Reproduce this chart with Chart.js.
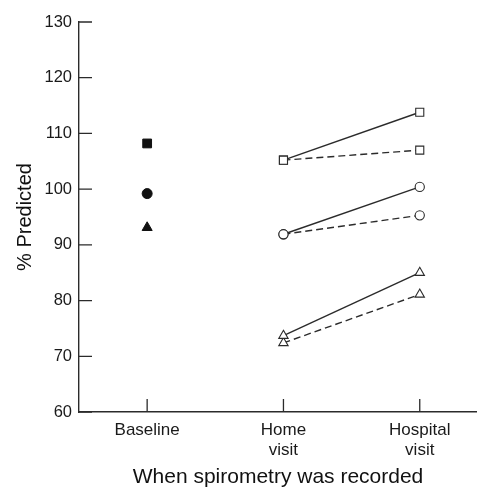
<!DOCTYPE html>
<html>
<head>
<meta charset="utf-8">
<script src="https://cdn.jsdelivr.net/npm/chart.js@4.4.1/dist/chart.umd.min.js"></script>
<style>
  html, body { margin: 0; padding: 0; background: #fff; }
  #wrap { width: 477px; height: 487px; }
</style>
</head>
<body>
<div id="wrap"><canvas id="chart" width="477" height="487"></canvas></div>
<script>
// categories on the x axis
const categories = ["Baseline", ["Home", "visit"], ["Hospital", "visit"]];
const yTicks = [60, 70, 80, 90, 100, 110, 120, 130];

// baseline (filled markers)
const baselineSquare = [108.2];
const baselineCircle = [99.2];
const baselineTriangle = [93.1];

// home visit -> hospital visit (open markers)
const squareSolid = [105.2, 113.8];
const squareDashed = [105.2, 107.0];
const circleSolid = [91.9, 100.4];
const circleDashed = [91.9, 95.3];
const triangleSolid = [73.7, 85.0];
const triangleDashed = [72.4, 81.1];

const ink = "#2b2b2b";
const fontFamily = "Liberation Sans, Arial, sans-serif";

function pts(values, startIdx) {
  return values.map((v, i) => ({ x: startIdx + i, y: v }));
}

function filled(values, style, r) {
  return {
    data: pts(values, 0),
    showLine: false,
    pointStyle: style,
    pointRadius: r,
    pointBackgroundColor: "#111",
    pointBorderColor: "#111",
    pointBorderWidth: 1
  };
}

function pair(values, style, r, dashed) {
  return {
    data: pts(values, 1),
    showLine: true,
    borderColor: ink,
    borderWidth: 1.4,
    borderDash: dashed ? [7, 4] : [],
    pointStyle: style,
    pointRadius: r,
    pointBackgroundColor: "#fff",
    pointBorderColor: ink,
    pointBorderWidth: 1.1
  };
}

// short tick marks pointing into the plot area
const insideTicks = {
  id: "insideTicks",
  afterDatasetsDraw(chart) {
    const { ctx, chartArea, scales } = chart;
    ctx.save();
    ctx.strokeStyle = ink;
    ctx.lineWidth = 1.3;
    ctx.beginPath();
    yTicks.forEach(v => {
      const y = scales.y.getPixelForValue(v);
      ctx.moveTo(chartArea.left, y);
      ctx.lineTo(chartArea.left + 13, y);
    });
    categories.forEach((c, i) => {
      const x = scales.x.getPixelForValue(i);
      ctx.moveTo(x, chartArea.bottom);
      ctx.lineTo(x, chartArea.bottom - 13);
    });
    ctx.stroke();
    ctx.restore();
  }
};

new Chart(document.getElementById("chart"), {
  type: "scatter",
  data: {
    datasets: [
      filled(baselineSquare, "rect", 6.2),
      filled(baselineCircle, "circle", 5),
      filled(baselineTriangle, "triangle", 5.8),
      pair(squareSolid, "rect", 5.7, false),
      pair(squareDashed, "rect", 5.7, true),
      pair(circleSolid, "circle", 4.6, false),
      pair(circleDashed, "circle", 4.6, true),
      pair(triangleSolid, "triangle", 5.4, false),
      pair(triangleDashed, "triangle", 5.4, true)
    ]
  },
  options: {
    responsive: false,
    animation: false,
    layout: { autoPadding: false, padding: { top: 22, right: 0, left: 0, bottom: 0 } },
    plugins: {
      legend: { display: false },
      tooltip: { enabled: false }
    },
    scales: {
      x: {
        type: "linear",
        min: -0.5,
        max: 2.42,
        afterBuildTicks(scale) {
          scale.ticks = categories.map((c, i) => ({ value: i }));
        },
        afterFit(scale) {
          scale.height = 75;
          scale.paddingLeft = 0;
          scale.paddingRight = 0;
        },
        ticks: {
          callback: (v) => categories[v],
          color: "#1a1a1a",
          font: { family: fontFamily, size: 17 },
          padding: 8,
          maxRotation: 0
        },
        grid: { drawOnChartArea: false, drawTicks: false },
        border: { color: ink, width: 1.4 },
        title: {
          display: true,
          text: "When spirometry was recorded",
          color: "#111",
          font: { family: fontFamily, size: 21, lineHeight: 1 },
          padding: { top: 0, bottom: -1 }
        }
      },
      y: {
        min: 60,
        max: 130,
        afterBuildTicks(scale) {
          scale.ticks = yTicks.map(v => ({ value: v }));
        },
        afterFit(scale) { scale.width = 79; },
        ticks: {
          color: "#1a1a1a",
          font: { family: fontFamily, size: 16.5 },
          padding: 7
        },
        grid: { drawOnChartArea: false, drawTicks: false },
        border: { color: ink, width: 1.4 },
        title: {
          display: true,
          text: "% Predicted",
          color: "#111",
          font: { family: fontFamily, size: 20, lineHeight: 1.2 },
          padding: { top: 13, bottom: 0 }
        }
      }
    }
  },
  plugins: [insideTicks]
});
</script>
</body>
</html>
